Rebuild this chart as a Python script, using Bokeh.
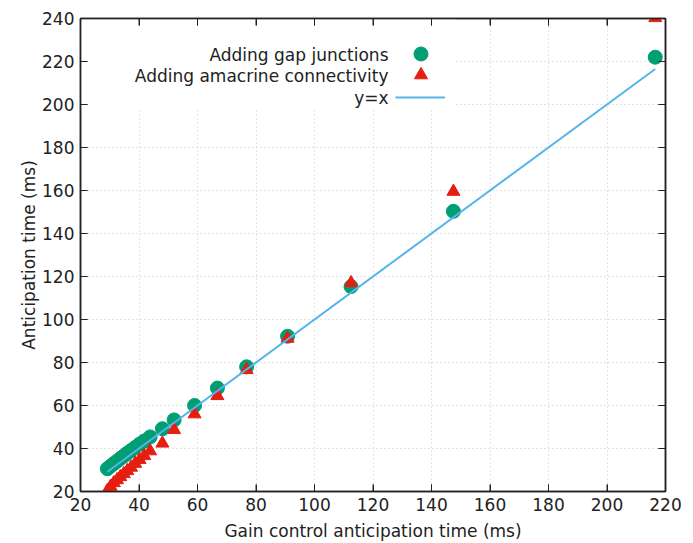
from bokeh.plotting import figure
from bokeh.models import (Range1d, LinearAxis, FixedTicker, CustomJSTickFormatter,
                          Legend, LegendItem, BoxAnnotation, Label)
from bokeh.embed import file_html
from bokeh.resources import INLINE

# ---- data ----
gain_control = [216.5, 147.5, 112.5, 90.8, 76.8, 66.8, 59.0, 52.0, 48.0, 43.8, 41.8,
                40.2, 38.7, 37.3, 36.0, 34.8, 33.6, 32.5, 31.4, 30.3, 29.2]
gap_junctions = [222.0, 150.3, 115.3, 92.2, 78.0, 68.1, 60.0, 53.3, 49.2, 45.4, 43.5,
                 42.0, 40.5, 39.1, 37.8, 36.5, 35.3, 34.1, 33.0, 31.8, 30.6]
amacrine = [240.3, 159.5, 117.0, 91.2, 76.6, 64.5, 56.0, 48.7, 42.4, 38.8, 36.6,
            34.8, 33.0, 31.2, 29.6, 28.2, 26.8, 25.4, 24.0, 22.3, 20.4]
identity_x = [min(gain_control), max(gain_control)]
identity_y = identity_x

x_ticks = list(range(20, 221, 20))
y_ticks = list(range(20, 241, 20))

label_gap = "Adding gap junctions"
label_ama = "Adding amacrine connectivity"
label_line = "y=x"

FONT = "DejaVu Sans"
FS = "17px"
GREEN = "#009E73"
RED = "#E51E10"
BLUE = "#56B4E9"
INK = "#222222"

x_lo, x_hi = x_ticks[0], x_ticks[-1]
y_lo, y_hi = y_ticks[0], y_ticks[-1]

p = figure(width=693, height=543, output_backend="svg", toolbar_location=None,
           x_range=Range1d(x_lo, x_hi), y_range=Range1d(y_lo, y_hi),
           min_border_left=80, min_border_right=28, min_border_top=18, min_border_bottom=51)
p.background_fill_color = "white"
p.border_fill_color = "white"
p.outline_line_color = INK
p.outline_line_width = 1.5

# grid
for g in (p.xgrid[0], p.ygrid[0]):
    g.grid_line_color = "#c8c8c8"
    g.grid_line_dash = "1 3"
    g.grid_line_width = 1
p.xgrid[0].ticker = FixedTicker(ticks=x_ticks)
p.ygrid[0].ticker = FixedTicker(ticks=y_ticks)

# white key box hiding the grid under the legend (kept just inside the border)
p.add_layout(BoxAnnotation(left=20.4, right=148.2, bottom=198.4, top=239.5,
                           fill_color="white", fill_alpha=1.0, line_color=None,
                           level="underlay"))

def style_axis(ax, ticks, labels=True):
    ax.ticker = FixedTicker(ticks=ticks)
    ax.axis_line_color = INK
    ax.axis_line_width = 1.5
    ax.major_tick_in = 7
    ax.major_tick_out = 0
    ax.major_tick_line_color = INK
    ax.major_tick_line_width = 1
    ax.minor_tick_line_color = None
    ax.major_label_text_font = FONT
    ax.major_label_text_font_size = FS
    ax.major_label_text_color = INK
    ax.axis_label_text_font = FONT
    ax.axis_label_text_font_size = FS
    ax.axis_label_text_font_style = "normal"
    ax.axis_label_text_color = INK
    if not labels:
        ax.formatter = CustomJSTickFormatter(code="return ''")

xa = p.xaxis[0]
ya = p.yaxis[0]
style_axis(xa, x_ticks)
style_axis(ya, y_ticks)
xa.axis_label = "Gain control anticipation time (ms)"
ya.axis_label = "Anticipation time (ms)"
xa.major_label_standoff = 6
xa.axis_label_standoff = 7
ya.major_label_standoff = 6
ya.axis_label_standoff = 0

top_ax = LinearAxis()
style_axis(top_ax, x_ticks, labels=False)
p.add_layout(top_ax, "above")
right_ax = LinearAxis()
style_axis(right_ax, y_ticks, labels=False)
p.add_layout(right_ax, "right")

# inward tick marks on all four sides (gnuplot style), 7 px long
TICK = dict(length=7, length_units="screen", angle_units="deg",
            line_color=INK, line_width=1)
p.ray(x=x_ticks, y=[y_lo] * len(x_ticks), angle=90, **TICK)
p.ray(x=x_ticks, y=[y_hi] * len(x_ticks), angle=-90, **TICK)
p.ray(x=[x_lo] * len(y_ticks), y=y_ticks, angle=0, **TICK)
p.ray(x=[x_hi] * len(y_ticks), y=y_ticks, angle=180, **TICK)

# glyphs
r_gap = p.scatter(gain_control, gap_junctions, marker="circle", size=14,
                  fill_color=GREEN, line_color=GREEN)
r_ama = p.scatter(gain_control, amacrine, marker="triangle", size=13,
                  fill_color=RED, line_color=RED)
r_line = p.line(identity_x, identity_y, line_color=BLUE, line_width=2)

# key: text on the left, sample on the right (gnuplot style)
def key(renderer, loc, gw, gh):
    leg = Legend(items=[LegendItem(label="", renderers=[renderer])], location=loc,
                 glyph_width=gw, glyph_height=gh, padding=0, margin=0, spacing=0,
                 label_standoff=0, label_width=0, label_height=0,
                 label_text_font_size="1px", background_fill_alpha=0,
                 border_line_alpha=0)
    p.add_layout(leg, "center")

key(r_gap, (323, 420), 35, 35)
key(r_ama, (324, 400), 33, 33)
key(r_line, (315, 384), 50, 20)

for txt, yy in ((label_gap, 437), (label_ama, 415.5), (label_line, 394)):
    p.add_layout(Label(x=308, y=yy, x_units="screen", y_units="screen", text=txt,
                       text_align="right", text_baseline="middle",
                       text_font=FONT, text_font_size=FS, text_color=INK))

open("out.html", "w").write(file_html(p, INLINE))
